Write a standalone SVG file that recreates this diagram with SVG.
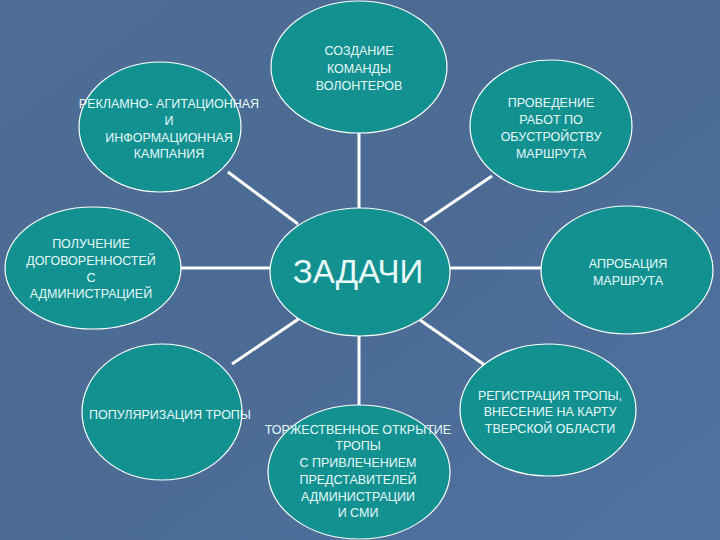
<svg xmlns="http://www.w3.org/2000/svg" width="720" height="540" viewBox="0 0 720 540">
<defs>
<linearGradient id="bg" x1="0" y1="0" x2="1" y2="1">
<stop offset="0" stop-color="#4d6c96"/>
<stop offset="0.5" stop-color="#4b6b95"/>
<stop offset="1" stop-color="#4f72a0"/>
</linearGradient>
<style>
.n{fill:#139090;stroke:#ffffff;stroke-width:1.2}
.c line{stroke:#ffffff;stroke-width:3}
text{font-family:"Liberation Sans",Arial,sans-serif;font-size:12.5px;fill:#e6fafa;text-anchor:middle}
.big{font-size:33px}
</style>
</defs>
<rect width="720" height="540" fill="url(#bg)"/>
<g class="c" id="connectors">
<line x1="359" y1="133" x2="359" y2="208"/>
<line x1="228" y1="172" x2="298" y2="224"/>
<line x1="492" y1="176" x2="424" y2="222"/>
<line x1="180" y1="268" x2="270" y2="268"/>
<line x1="450" y1="268" x2="542" y2="268"/>
<line x1="232" y1="364" x2="300" y2="318"/>
<line x1="359" y1="336" x2="359" y2="406"/>
<line x1="420" y1="320" x2="486" y2="366"/>
</g>
<g id="n-top"><ellipse class="n" cx="359" cy="67" rx="88" ry="66"/>
<text x="359" y="55">СОЗДАНИЕ</text><text x="359" y="72.5">КОМАНДЫ</text><text x="359" y="90">ВОЛОНТЕРОВ</text></g>
<g id="n-topleft"><ellipse class="n" cx="160" cy="127" rx="81" ry="65"/>
<text x="169" y="108">РЕКЛАМНО- АГИТАЦИОННАЯ</text><text x="169" y="125">И</text><text x="169" y="142">ИНФОРМАЦИОННАЯ</text><text x="169" y="158">КАМПАНИЯ</text></g>
<g id="n-topright"><ellipse class="n" cx="551" cy="126" rx="81" ry="66"/>
<text x="551" y="107">ПРОВЕДЕНИЕ</text><text x="551" y="124">РАБОТ ПО</text><text x="551" y="141">ОБУСТРОЙСТВУ</text><text x="551" y="158">МАРШРУТА</text></g>
<g id="n-left"><ellipse class="n" cx="93" cy="268" rx="88" ry="61"/>
<text x="91" y="248">ПОЛУЧЕНИЕ</text><text x="91" y="265">ДОГОВОРЕННОСТЕЙ</text><text x="91" y="282">С</text><text x="91" y="298">АДМИНИСТРАЦИЕЙ</text></g>
<g id="n-center"><ellipse class="n" cx="360" cy="272" rx="90" ry="64"/>
<text class="big" x="358" y="283">ЗАДАЧИ</text></g>
<g id="n-right"><ellipse class="n" cx="627" cy="270" rx="86" ry="64"/>
<text x="628" y="268">АПРОБАЦИЯ</text><text x="628" y="285">МАРШРУТА</text></g>
<g id="n-bottomleft"><ellipse class="n" cx="162" cy="412" rx="80" ry="68"/>
<text x="170" y="419">ПОПУЛЯРИЗАЦИЯ ТРОПЫ</text></g>
<g id="n-bottom"><ellipse class="n" cx="359" cy="472" rx="91" ry="67"/>
<text x="358" y="434">ТОРЖЕСТВЕННОЕ ОТКРЫТИЕ</text><text x="358" y="450">ТРОПЫ</text><text x="358" y="467">С ПРИВЛЕЧЕНИЕМ</text><text x="358" y="484">ПРЕДСТАВИТЕЛЕЙ</text><text x="358" y="501">АДМИНИСТРАЦИИ</text><text x="358" y="517">И СМИ</text></g>
<g id="n-bottomright"><ellipse class="n" cx="548" cy="410" rx="88" ry="66"/>
<text x="550" y="400">РЕГИСТРАЦИЯ ТРОПЫ,</text><text x="550" y="416">ВНЕСЕНИЕ НА КАРТУ</text><text x="550" y="433">ТВЕРСКОЙ ОБЛАСТИ</text></g>
</svg>
